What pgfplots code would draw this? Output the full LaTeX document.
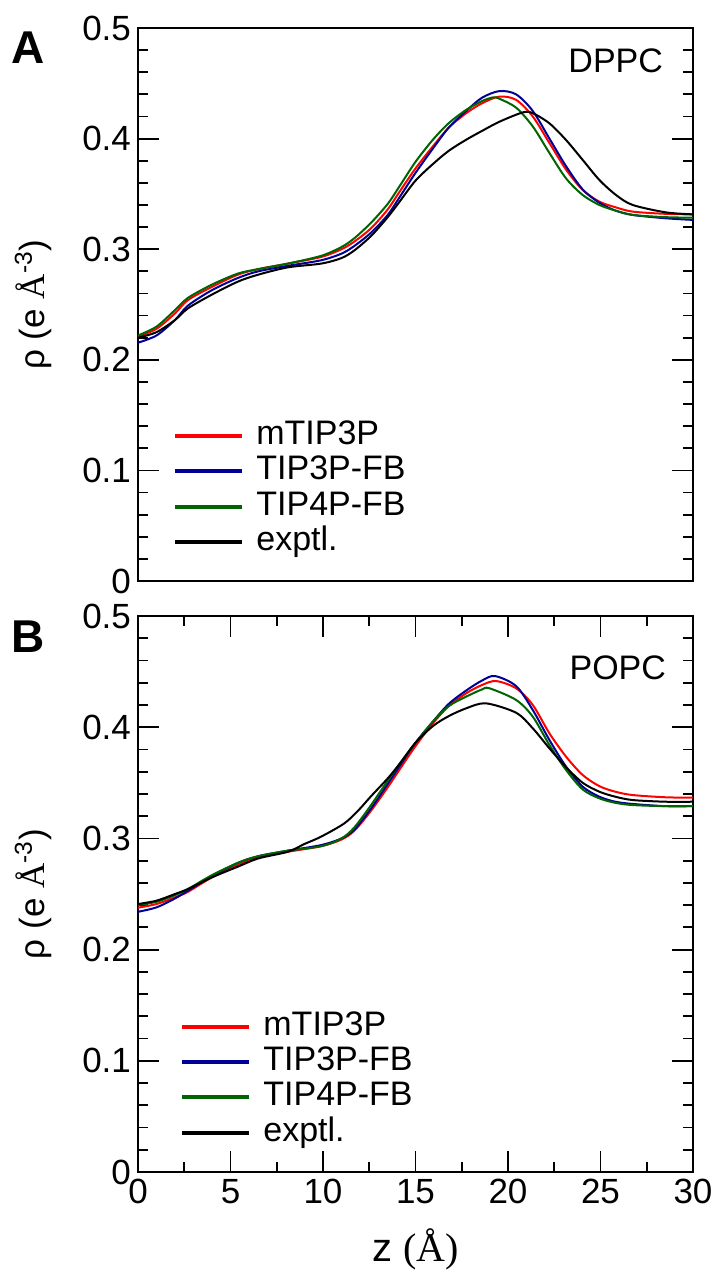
\documentclass[border=0pt]{standalone}
\usepackage{pgfplots}
\pgfplotsset{compat=1.18}
\usepackage{fontspec}
\setmainfont{Liberation Sans}
\newfontfamily\serifA{Liberation Serif}
\definecolor{cred}{RGB}{255,0,0}
\definecolor{cblue}{RGB}{0,0,150}
\definecolor{cgreen}{RGB}{0,100,0}
\pgfplotsset{
  panel/.style={
    scale only axis, width=277.5pt, clip=false,
    xmin=0, xmax=30, ymin=0, ymax=0.5,
    tick align=inside,
    major tick length=10.5pt, minor tick length=5pt,
    every tick/.style={line width=0.9pt, black},
    axis line style={line width=1pt},
    ytick={0,0.1,0.2,0.3,0.4,0.5},
    yticklabels={0,0.1,0.2,0.3,0.4,0.5},
    minor y tick num=4,
    /pgf/number format/assume math mode=true,
    ticklabel style={font=\fontsize{17.5}{20}\selectfont},
    ylabel={ρ (e {\serifA Å}\textsuperscript{-3})},
    ylabel style={font=\fontsize{17.5}{20}\selectfont, at={(axis description cs:-0.189,0.5)}, anchor=center},
    legend cell align=left,
    legend image code/.code={\draw[line width=2pt] (0pt,0pt) -- (33.5pt,0pt);},
    every axis plot/.append style={line width=1pt, smooth, tension=0.5},
  },
  lstyle/.style={draw=none, fill=none, inner sep=0pt, row sep=1.2pt, column sep=6pt,
    font=\fontsize{17}{20}\selectfont,
    nodes={inner sep=0pt, text height=12.5pt, text depth=4pt}},
}
\begin{document}
\begin{tikzpicture}
\useasboundingbox (0,0) rectangle (357.5pt,-638pt);
% ---------------- Panel A ----------------
\begin{axis}[panel, at={(69pt,-290.5pt)}, anchor=south west, height=276.5pt,
  xtick=\empty,
  legend style={lstyle, at={(axis description cs:0.063,0.293)}, anchor=north west}]
\addplot[cred] coordinates {(0,0.221)(1,0.228)(2,0.242)(2.7,0.254)(4,0.266)(5.4,0.277)(6.5,0.282)(8.1,0.287)(9.9,0.293)(11,0.300)(11.7,0.307)(12.6,0.319)(13.5,0.336)(14.14,0.352)(15,0.373)(15.94,0.393)(16.8,0.410)(17.74,0.423)(18.6,0.432)(19.54,0.438)(20.44,0.435)(21.34,0.420)(22.24,0.396)(23.14,0.372)(24.04,0.3535)(24.94,0.343)(25.8,0.338)(26.74,0.334)(28.5,0.332)(30,0.3315)};
\addlegendentry{mTIP3P}
\addplot[cblue] coordinates {(0,0.2155)(1,0.222)(2,0.236)(2.7,0.249)(4,0.263)(5.4,0.274)(6.5,0.280)(8.1,0.285)(9.9,0.290)(11,0.296)(11.7,0.303)(12.6,0.315)(13.5,0.331)(14.14,0.347)(15,0.369)(15.94,0.391)(16.8,0.410)(17.74,0.425)(18.6,0.437)(19.54,0.443)(20.44,0.440)(21.34,0.425)(22.24,0.400)(23.14,0.375)(24.04,0.354)(24.94,0.342)(25.8,0.335)(26.74,0.331)(28.5,0.328)(30,0.3265)};
\addlegendentry{TIP3P-FB}
\addplot[cgreen] coordinates {(0,0.222)(1,0.230)(2,0.245)(2.7,0.256)(4,0.268)(5.4,0.278)(6.5,0.282)(8.1,0.287)(9.9,0.294)(11,0.302)(11.7,0.310)(12.6,0.324)(13.5,0.341)(14.14,0.357)(15,0.379)(15.94,0.399)(16.8,0.414)(17.74,0.426)(18.6,0.434)(19.2,0.4373)(19.54,0.436)(20.44,0.428)(21.34,0.411)(22.24,0.387)(23.14,0.364)(24.04,0.349)(24.94,0.340)(25.8,0.335)(26.74,0.331)(28.5,0.329)(30,0.3285)};
\addlegendentry{TIP4P-FB}
\addplot[black] coordinates {(0,0.220)(1,0.225)(2,0.236)(2.7,0.2465)(4,0.259)(5.4,0.2707)(6.5,0.277)(8.1,0.2836)(9.9,0.287)(11,0.292)(11.7,0.299)(12.6,0.312)(13.5,0.329)(14.14,0.343)(15,0.362)(15.94,0.377)(16.8,0.389)(17.74,0.399)(18.6,0.407)(19.54,0.4153)(20.8,0.4237)(21.34,0.423)(22.24,0.4138)(23.14,0.3987)(24.04,0.3807)(24.94,0.3626)(25.84,0.349)(26.74,0.340)(28.54,0.3333)(30,0.3315)};
\addlegendentry{exptl.}
\node[anchor=east, font=\fontsize{17}{20}\selectfont] at (axis description cs:0.9586,0.940) {DPPC};
\node[font=\bfseries\fontsize{23}{26}\selectfont] at (axis description cs:-0.198,0.964) {A};
\end{axis}
% ---------------- Panel B ----------------
\begin{axis}[panel, at={(69pt,-586pt)}, anchor=south west, height=278pt,
  xtick={0,5,10,15,20,25,30}, xticklabels={0,5,10,15,20,25,30},
  minor x tick num=1,
  xlabel={z {\serifA (Å)}},
  xlabel style={font=\fontsize{20}{24}\selectfont, at={(axis description cs:0.5,-0.14)}, anchor=center},
  legend style={lstyle, at={(axis description cs:0.0757,0.292)}, anchor=north west}]
\addplot[cred] coordinates {(0,0.2377)(1,0.241)(2,0.247)(2.7,0.252)(4,0.265)(5.4,0.276)(6.5,0.283)(8.1,0.288)(9.9,0.293)(11,0.299)(11.7,0.307)(12.6,0.325)(13.5,0.346)(14.14,0.362)(15,0.383)(15.94,0.4035)(16.8,0.419)(17.74,0.4305)(18.6,0.438)(19.36,0.4415)(20.44,0.435)(21.34,0.420)(22.24,0.3945)(23.14,0.3735)(24.04,0.357)(24.94,0.347)(25.8,0.342)(26.74,0.339)(28.5,0.337)(30,0.3366)};
\addlegendentry{mTIP3P}
\addplot[cblue] coordinates {(0,0.234)(1,0.238)(2,0.246)(2.7,0.253)(4,0.266)(5.4,0.278)(6.5,0.284)(8.1,0.289)(9.9,0.294)(11,0.300)(11.7,0.308)(12.6,0.327)(13.5,0.349)(14.14,0.365)(15,0.386)(15.94,0.405)(16.8,0.421)(17.74,0.433)(18.6,0.442)(19.3,0.446)(20.44,0.437)(21.34,0.4155)(22.24,0.3885)(23.14,0.3645)(24.04,0.3465)(24.94,0.3375)(25.8,0.333)(26.74,0.331)(28.5,0.329)(30,0.329)};
\addlegendentry{TIP3P-FB}
\addplot[cgreen] coordinates {(0,0.2401)(1,0.243)(2,0.249)(2.7,0.2545)(4,0.267)(5.4,0.278)(6.5,0.284)(8.1,0.289)(9.9,0.293)(11,0.300)(11.7,0.310)(12.6,0.330)(13.5,0.352)(14.14,0.367)(15,0.386)(15.94,0.405)(16.8,0.419)(17.74,0.4275)(18.6,0.434)(19,0.435)(20.44,0.4245)(21.34,0.4095)(22.24,0.384)(23.14,0.3615)(24.04,0.344)(24.94,0.336)(25.8,0.332)(26.74,0.330)(28.5,0.329)(30,0.329)};
\addlegendentry{TIP4P-FB}
\addplot[black] coordinates {(0,0.241)(1,0.244)(2,0.250)(2.7,0.2545)(4,0.265)(5.4,0.2746)(6.5,0.282)(8.1,0.288)(9,0.295)(9.9,0.3016)(11.15,0.3135)(11.9,0.325)(12.6,0.338)(13.5,0.354)(14.14,0.367)(15,0.386)(15.94,0.401)(16.8,0.410)(17.74,0.417)(18.8,0.4215)(20.44,0.413)(21.34,0.399)(22.24,0.381)(23.14,0.364)(24.04,0.350)(24.94,0.342)(25.8,0.3375)(26.74,0.3345)(28.5,0.333)(30,0.333)};
\addlegendentry{exptl.}
\node[anchor=east, font=\fontsize{17}{20}\selectfont] at (axis description cs:0.9640,0.907) {POPC};
\node[font=\bfseries\fontsize{23}{26}\selectfont] at (axis description cs:-0.198,0.962) {B};
\end{axis}
\end{tikzpicture}
\end{document}
